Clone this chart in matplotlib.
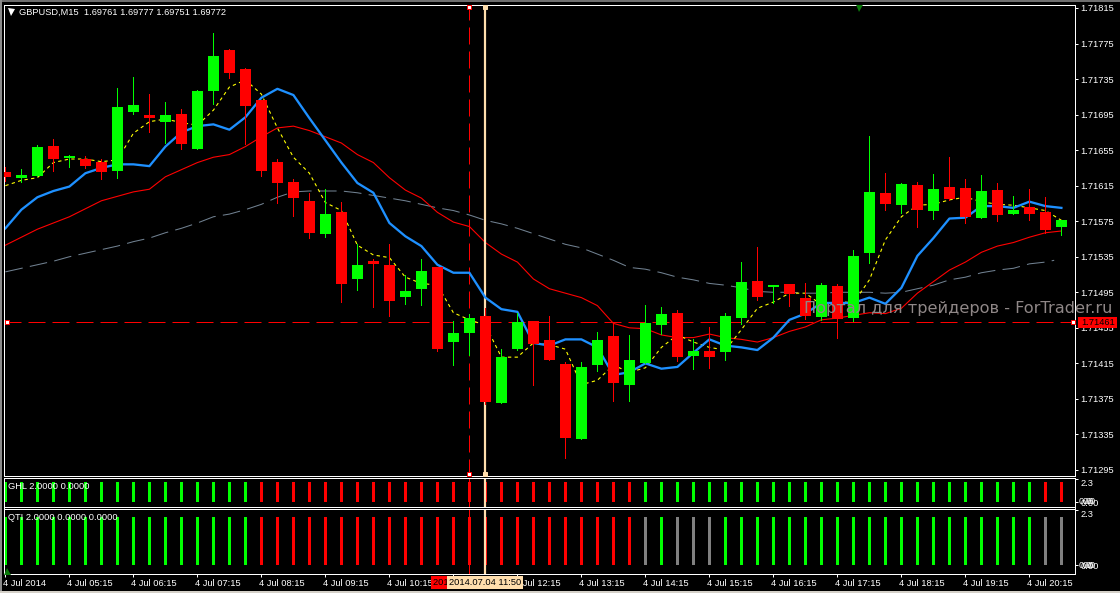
"""MT4 style GBPUSD M15 screenshot: candles, moving averages and two signal strips."""
import matplotlib

matplotlib.use("Agg")
import matplotlib.pyplot as plt
from matplotlib.patches import Rectangle
from matplotlib.transforms import ScaledTranslation
import numpy as np

plt.rcParams["font.family"] = ["Liberation Sans", "DejaVu Sans"]

# all prices are in points above this base
BASE = 1.71
POINT = 0.00001

opens = [630, 624, 626, 660, 646, 645, 642, 632, 698, 695, 687, 696, 656, 722, 768, 746, 711,
         642, 619, 598, 561, 585, 510, 530, 526, 490, 499, 523, 439, 449, 468, 370, 431, 463,
         441, 414, 330, 413, 446, 391, 415, 458, 472, 423, 429, 428, 466, 508, 501, 504, 489,
         467, 502, 466, 539, 607, 593, 616, 587, 614, 612, 579, 610, 583, 591, 585, 569]
closes = [625, 627, 659, 645, 648, 637, 630, 704, 706, 691, 695, 662, 722, 761, 742, 705, 632,
          618, 601, 562, 583, 504, 526, 527, 485, 496, 519, 431, 449, 466, 372, 422, 462, 437,
          419, 331, 411, 441, 393, 419, 460, 471, 422, 429, 422, 468, 507, 490, 503, 493, 468,
          503, 465, 536, 608, 594, 617, 588, 611, 600, 580, 609, 582, 588, 583, 565, 576]
highs = [636, 634, 661, 668, 650, 648, 645, 725, 737, 718, 709, 701, 723, 787, 769, 747, 711,
         645, 623, 607, 611, 597, 549, 533, 549, 514, 533, 523, 463, 471, 477, 431, 472, 463,
         468, 417, 417, 450, 460, 447, 481, 478, 475, 442, 456, 472, 529, 546, 503, 504, 505,
         505, 504, 543, 671, 629, 618, 619, 628, 647, 623, 627, 618, 603, 611, 602, 576]
lows = [620, 619, 626, 632, 636, 635, 623, 624, 696, 675, 663, 656, 656, 707, 736, 662, 626,
        595, 581, 556, 557, 484, 498, 478, 468, 482, 481, 429, 413, 424, 369, 370, 430, 391,
        419, 309, 330, 406, 373, 373, 415, 448, 418, 409, 410, 419, 459, 486, 483, 480, 465,
        464, 444, 463, 528, 588, 584, 569, 578, 599, 573, 579, 575, 583, 576, 562, 559]

ma_blue = [567, 588, 602, 609, 614, 629, 635, 639, 639, 637, 659, 675, 682, 684, 678, 692, 714,
           724, 717, 691, 666, 641, 618, 607, 573, 558, 547, 526, 517, 517, 489, 476, 473, 438,
           435, 442, 442, 433, 402, 405, 415, 409, 411, 427, 442, 435, 433, 430, 444, 464, 471,
           483, 483, 483, 489, 482, 500, 536, 556, 578, 579, 592, 592, 590, 597, 592, 590]
ma_red = [548, 557, 566, 573, 580, 589, 598, 603, 608, 611, 625, 633, 641, 647, 650, 659, 670,
          680, 682, 677, 670, 663, 650, 641, 624, 610, 601, 585, 574, 569, 551, 538, 529, 510,
          499, 494, 489, 480, 460, 455, 454, 447, 444, 444, 448, 444, 442, 439, 444, 451, 456,
          464, 466, 469, 472, 471, 477, 494, 507, 520, 529, 540, 547, 551, 557, 562, 564]
ma_gray = [518, 522, 526, 530, 535, 539, 543, 547, 552, 556, 562, 567, 573, 580, 583, 588, 594,
           602, 608, 609, 609, 609, 607, 604, 601, 598, 594, 590, 587, 582, 576, 572, 567, 561,
           555, 549, 545, 538, 531, 523, 521, 517, 512, 509, 505, 503, 500, 496, 495, 495, 494,
           494, 495, 495, 495, 494, 495, 499, 503, 509, 512, 517, 520, 522, 527, 529, 531]
ma_yellow = [615, 621, 624, 641, 645, 645, 642, 644, 674, 687, 690, 686, 683, 700, 726, 734, 718,
             680, 647, 629, 596, 587, 548, 537, 534, 512, 505, 503, 472, 464, 458, 422, 422, 438,
             436, 431, 391, 396, 413, 405, 410, 433, 447, 439, 433, 430, 453, 477, 484, 494, 494,
             481, 485, 483, 509, 554, 580, 593, 594, 599, 602, 597, 594, 593, 590, 587, 576]

price_ticks = [1.71815, 1.71775, 1.71735, 1.71695, 1.71655, 1.71615, 1.71575, 1.71535,
               1.71495, 1.71455, 1.71415, 1.71375, 1.71335, 1.71295]
crosshair_price = 1.71461
red_bar, peach_bar = 29, 30

time_ticks = list(range(0, 67, 4))
time_labels = ["4 Jul 2014", "4 Jul 05:15", "4 Jul 06:15", "4 Jul 07:15", "4 Jul 08:15",
               "4 Jul 09:15", "4 Jul 10:15", "4 Jul 11:15", "4 Jul 12:15", "4 Jul 13:15",
               "4 Jul 14:15", "4 Jul 15:15", "4 Jul 16:15", "4 Jul 17:15", "4 Jul 18:15",
               "4 Jul 19:15", "4 Jul 20:15"]

ghl_colors = ["g"] * 16 + ["r"] * 24 + ["g"] * 25 + ["r"] * 2
qti_colors = (["g"] * 16 + ["r"] * 24 + ["s", "g", "s", "s", "s"] + ["g"] * 20 + ["s"] * 2)

GREEN, RED, GRAY, PEACH = "#00ff00", "#ff0000", "#808080", "#ffdead"
PALETTE = {"g": GREEN, "r": RED, "s": GRAY}
W, H = 1120, 593
FS = 6.7
PX = 0.72  # one pixel in points at dpi 100
LONG_DASH = (0, (17, 7))

fig = plt.figure(figsize=(W / 100, H / 100), dpi=100, facecolor="black")


def panel(top, bottom, ylim):
    # 4.4 rather than 4.5 keeps the snapped 1 px lines on the same columns as the bars
    ax = fig.add_axes([4.4 / W, 1 - bottom / H, 1071 / W, (bottom - top) / H], facecolor="black")
    ax.set_xlim(-1 / 16, 1070 / 16)
    ax.set_ylim(*ylim)
    for spine in ax.spines.values():
        spine.set_color("white")
        spine.set_linewidth(PX)
    ax.yaxis.tick_right()
    ax.tick_params(axis="y", colors="white", length=3 * PX, width=PX, pad=1.5, labelsize=FS)
    ax.set_xticks([])
    return ax


ax = panel(4.5, 475.5, (1.712888, 1.718189))
ax_ghl = panel(477.5, 506.5, (-0.45, 2.45))
ax_qti = panel(508.5, 573.5, (-0.354, 2.354))

x = np.arange(len(opens))
o, c = BASE + np.array(opens) * POINT, BASE + np.array(closes) * POINT
hi, lo = BASE + np.array(highs) * POINT, BASE + np.array(lows) * POINT
colors = [GREEN if b > a else RED for a, b in zip(opens, closes)]

# crosshairs sit behind everything else
for a in (ax, ax_ghl, ax_qti):
    a.axvline(red_bar, color=RED, lw=PX, ls=LONG_DASH, zorder=1)
ax.axhline(crosshair_price, color=RED, lw=PX, ls=LONG_DASH, zorder=1)

ax.plot(np.r_[x[:66], 65.55], BASE + np.array(ma_gray) * POINT, color="#708090", lw=0.75,
        ls=LONG_DASH, zorder=2)
ax.plot(x, BASE + np.array(ma_red) * POINT, color=RED, lw=0.8, zorder=2)
ax.plot(x, BASE + np.array(ma_yellow) * POINT, color="#ffff00", lw=0.8, ls=(0, (3, 3)), zorder=2)
ax.plot(x, BASE + np.array(ma_blue) * POINT, color="#1e90ff", lw=2.3 * PX, zorder=2.1)
ax.axvline(peach_bar, color=PEACH, lw=2.2 * PX, zorder=2)

ax.vlines(x, lo, hi, colors=colors, lw=PX, antialiased=False, zorder=3)
ax.bar(x, np.abs(c - o), bottom=np.minimum(o, c), width=11 / 16, color=colors, linewidth=0,
       antialiased=False, zorder=3.1)

ax.set_yticks(price_ticks)
ax.set_yticklabels([f"{p:.5f}" for p in price_ticks])

# anchor squares of the crosshairs
top_p, bottom_p = 1.71816, 1.71291
ax.plot([red_bar, red_bar, 0.11, 66.7], [top_p, bottom_p, crosshair_price, crosshair_price],
        ls="", marker="s", ms=4 * PX, mfc="white", mec=RED, mew=PX, clip_on=False, zorder=6)
ax.plot([peach_bar, peach_bar], [top_p, bottom_p], ls="", marker="s", ms=5 * PX, mfc=PEACH,
        mec=PEACH, mew=PX, clip_on=False, zorder=6)
ax.plot([53.35], [1.71816], ls="", marker="v", ms=9 * PX, color="#0a7a0a", mew=0, zorder=4)
ax.plot([0.0066], [0.984], ls="", marker="v", ms=7 * PX, color="white", mew=0,
        transform=ax.transAxes, zorder=6)

ax.text(15 / 1071, 1 - 8 / 471, "GBPUSD,M15  1.69761 1.69777 1.69751 1.69772", color="white",
        fontsize=FS, va="center", ha="left", transform=ax.transAxes, zorder=6)
fig.text(804 / W, 1 - 308 / H, "Портал для трейдеров - ForTrader.ru", color="#8f8787",
         fontsize=11.65, va="center", ha="left", family=["DejaVu Sans"], zorder=8)

# price tag on the axis
ax.add_patch(Rectangle((1.0022, crosshair_price - 0.00006), 0.0364, 0.00012, facecolor=RED,
                       edgecolor="none", clip_on=False, zorder=7,
                       transform=ax.get_yaxis_transform()))
ax.text(1.0057, crosshair_price, f"{crosshair_price:.5f}", color="black", fontsize=FS, va="center",
        ha="left", transform=ax.get_yaxis_transform(), clip_on=False, zorder=8)

# signal strips
for a, state in ((ax_ghl, ghl_colors), (ax_qti, qti_colors)):
    a.bar(x, [2.0] * len(x), width=3.2 / 16, color=[PALETTE[s] for s in state], linewidth=0,
          antialiased=False, zorder=1.5)
    a.axvline(peach_bar, color=PEACH, lw=2.2 * PX, zorder=2)
    a.set_yticks([0, 2.3])
    a.set_yticklabels(["0.00", "2.3"])
    a.get_yticklabels()[1].set_va("top")
    for dx, txt in ((3, "0.0"), (7, "0.0"), (12, "0")):
        a.annotate(txt, (1, 0), xycoords=a.get_yaxis_transform(), xytext=(dx * PX, 0),
                   textcoords="offset points", color="white", fontsize=FS, va="center",
                   annotation_clip=False)

ax_ghl.text(4 / 1071, (486.7 - 477.5) / -29 + 1, "GHL 2.0000 0.0000", color="white", fontsize=FS,
            va="center", transform=ax_ghl.transAxes, zorder=5)
ax_qti.text(4 / 1071, (517.7 - 508.5) / -65 + 1, "QTI 2.0000 0.0000 0.0000", color="white",
            fontsize=FS, va="center", transform=ax_qti.transAxes, zorder=5)
ax_qti.plot([0.09], [-0.27], ls="", marker="^", ms=7 * PX, color="#0a7a0a", mew=0, zorder=4)

# time axis, labels start just left of the tick
ax_qti.set_xticks(time_ticks)
ax_qti.set_xticklabels(time_labels, ha="left")
ax_qti.tick_params(axis="x", colors="white", length=3 * PX, width=PX, pad=1.8, labelsize=FS)
shift = ScaledTranslation(-2 / 100, 0, fig.dpi_scale_trans)
for lab in ax_qti.get_xticklabels():
    lab.set_transform(lab.get_transform() + shift)

box = dict(boxstyle="square,pad=0.2", edgecolor="none")
xf = ax_qti.get_xaxis_transform()
ax_qti.text(red_bar, -0.135, "2014.07.04 11:30", color="black", fontsize=FS, ha="center",
            va="center", transform=xf, clip_on=False, zorder=9, bbox=dict(box, facecolor=RED))
ax_qti.text(peach_bar, -0.135, "2014.07.04 11:50", color="black", fontsize=FS, ha="center",
            va="center", transform=xf, clip_on=False, zorder=10, bbox=dict(box, facecolor=PEACH))

# window edge of the terminal
fig.add_artist(Rectangle((0, 1 - 2 / H), 1, 2 / H, facecolor="#6e6e6e", edgecolor="none"))
fig.add_artist(Rectangle((0, 0), 2 / W, 1, facecolor="#8a8a8a", edgecolor="none"))
fig.add_artist(Rectangle((0, 0), 1, 2 / H, facecolor="#d4d0c8", edgecolor="none"))

fig.savefig("out.png", dpi=100, facecolor="black")
